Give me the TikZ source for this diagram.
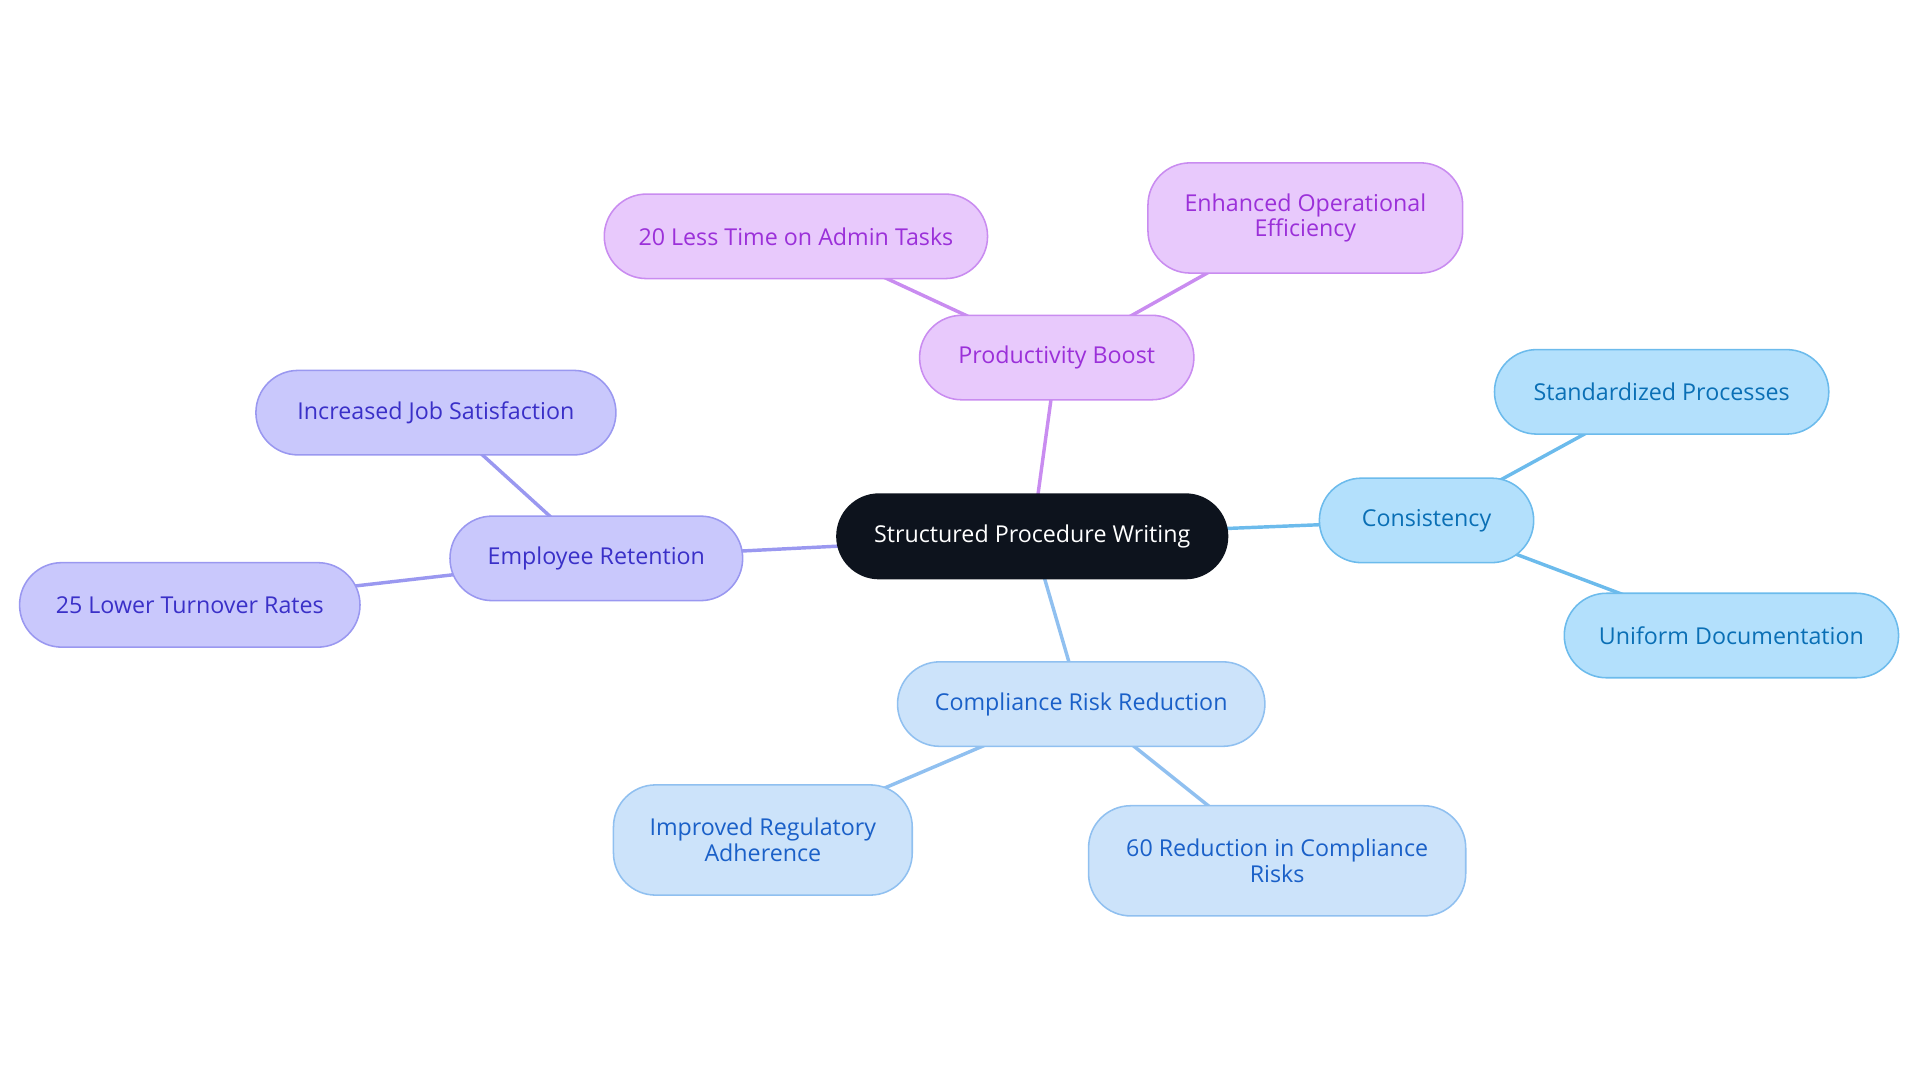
\documentclass[tikz,border=0pt]{standalone}
\usepackage{fontspec}
\setmainfont{Open Sans}
\usetikzlibrary{backgrounds}
\definecolor{pf}{HTML}{E8C9FC}\definecolor{ps}{HTML}{C98CF0}\definecolor{pt}{HTML}{9B30D9}
\definecolor{bf}{HTML}{B3E0FC}\definecolor{bs}{HTML}{6CBBEC}\definecolor{bt}{HTML}{0A6FB5}
\definecolor{lf}{HTML}{CCE3FA}\definecolor{ls}{HTML}{90C0F0}\definecolor{lt}{HTML}{1A60C8}
\definecolor{if}{HTML}{C9C8FC}\definecolor{is}{HTML}{9A98F0}\definecolor{it}{HTML}{3A30C8}
\definecolor{cf}{HTML}{0D131D}
\tikzset{
 nd/.style n args={3}{draw=#2,fill=#1,text=#3,line width=0.9pt,rounded corners=0.86cm,align=center,font=\fontsize{13.5}{15}\selectfont,inner sep=0pt},
 sz/.style 2 args={minimum width=#1*0.025cm,minimum height=#2*0.025cm},
 ed/.style={draw=#1,line width=2pt},
}
\begin{document}
\begin{tikzpicture}[x=0.025cm,y=-0.025cm]
\useasboundingbox (0,0) rectangle (1568,884.5);
\node[nd={cf}{cf}{white},sz={319}{69}] (c) at (843,438) {Structured Procedure Writing};
\node[nd={pf}{ps}{pt},sz={224}{69}] (p) at (863,292) {Productivity Boost};
\node[nd={pf}{ps}{pt},sz={313}{69}] (p1) at (650,193) {20 Less Time on Admin Tasks};
\node[nd={pf}{ps}{pt},sz={257}{90}] (p2) at (1066,178) {Enhanced Operational\\Efficiency};
\node[nd={bf}{bs}{bt},sz={175}{69}] (b) at (1165,425) {Consistency};
\node[nd={bf}{bs}{bt},sz={273}{69}] (b1) at (1357,320) {Standardized Processes};
\node[nd={bf}{bs}{bt},sz={273}{69}] (b2) at (1414,519) {Uniform Documentation};
\node[nd={lf}{ls}{lt},sz={300}{69}] (l) at (883,575) {Compliance Risk Reduction};
\node[nd={lf}{ls}{lt},sz={244}{90}] (l1) at (623,686) {Improved Regulatory\\Adherence};
\node[nd={lf}{ls}{lt},sz={308}{90}] (l2) at (1043,703) {60 Reduction in Compliance\\Risks};
\node[nd={if}{is}{it},sz={239}{69}] (i) at (487,456) {Employee Retention};
\node[nd={if}{is}{it},sz={294}{69}] (i1) at (356,337) {Increased Job Satisfaction};
\node[nd={if}{is}{it},sz={278}{69}] (i2) at (155,494) {25 Lower Turnover Rates};
\begin{scope}[on background layer]
\draw[ed=ps] (c.center) -- (p.center) (p.center) -- (p1.center) (p.center) -- (p2.center);
\draw[ed=bs] (c.center) -- (b.center) (b.center) -- (b1.center) (b.center) -- (b2.center);
\draw[ed=ls] (c.center) -- (l.center) (l.center) -- (l1.center) (l.center) -- (l2.center);
\draw[ed=is] (c.center) -- (i.center) (i.center) -- (i1.center) (i.center) -- (i2.center);
\end{scope}
\end{tikzpicture}
\end{document}
